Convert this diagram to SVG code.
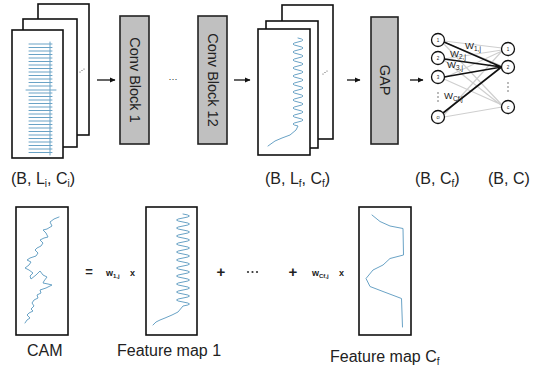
<svg xmlns="http://www.w3.org/2000/svg" width="535" height="368" viewBox="0 0 535 368">
<style>
text{font-family:"Liberation Sans",Arial,sans-serif;fill:#222}
.frame{fill:#fff;stroke:#111;stroke-width:1.6}
.block{fill:#c0c0c0;stroke:#222;stroke-width:1.6}
.wave{fill:none;stroke:#6aa3c6;stroke-width:1;stroke-linejoin:round;stroke-linecap:round}
.lbl{font-size:16px}
.blk{font-size:14.5px}
.gray{stroke:#cfcfcf;stroke-width:1.2}
.dark{stroke:#111;stroke-width:1.6}
.node{fill:#fff;stroke:#111;stroke-width:1.3}
.nt{font-size:4.5px;text-anchor:middle}
.w{font-size:9.5px}
.op{font-size:9px;font-weight:bold}
</style>
<defs>
<marker id="ah" markerWidth="6" markerHeight="6" refX="5" refY="3" orient="auto" markerUnits="userSpaceOnUse">
<path d="M0,0.5 L5.5,3 L0,5.5 Z" fill="#111"/>
</marker>
</defs>
<rect width="535" height="368" fill="#fff"/>

<g id="input-stack">
<rect class="frame" x="38" y="4" width="51" height="131"/>
<rect class="frame" x="23" y="19" width="54" height="128"/>
<rect class="frame" x="12" y="30" width="51" height="128"/>
<g fill="#555"><circle cx="80" cy="72" r="0.6"/><circle cx="82" cy="70.5" r="0.6"/><circle cx="84" cy="69" r="0.6"/></g>
<path class="wave" stroke-width="0.8" d="M50,42 V155 M29,44 H52 M29,47.5 H52 M29,51 H52 M29,54.5 H52 M29,58 H52 M29,61.5 H52 M29,65 H52 M29,68.5 H52 M29,72 H52 M29,75.5 H52 M29,79 H52 M29,82.5 H52 M29,86 H52 M26,90 H56 M29,93 H52 M29,96.5 H52 M29,100 H52 M29,103.5 H52 M29,107 H52 M29,110.5 H52 M29,114 H52 M29,117.5 H52 M29,121 H52 M29,124.5 H52 M29,128 H52 M29,131.5 H52 M29,135 H52 M29,138.5 H52 M29,142 H52 M29,145.5 H52 M29,149 H52 M29,152.5 H52"/>
<text class="lbl" x="11" y="184">(B, L<tspan font-size="10" dy="3">i</tspan><tspan dy="-3">, C</tspan><tspan font-size="10" dy="3">i</tspan><tspan dy="-3">)</tspan></text>
</g>

<g id="conv-block-1">
<rect class="block" x="120" y="16" width="29" height="128"/>
<text class="blk" transform="translate(129.5,80) rotate(90)" text-anchor="middle">Conv Block 1</text>
</g>

<text x="173" y="82" font-size="9" fill="#666" text-anchor="middle">···</text>

<g id="conv-block-12">
<rect class="block" x="198" y="16" width="29" height="128"/>
<text class="blk" transform="translate(207.5,80) rotate(90)" text-anchor="middle">Conv Block 12</text>
</g>

<g id="feature-stack">
<rect class="frame" x="282" y="5" width="51" height="134"/>
<rect class="frame" x="266" y="21" width="52" height="127"/>
<rect class="frame" x="258" y="29" width="52" height="126"/>
<g fill="#555"><circle cx="323" cy="74" r="0.6"/><circle cx="325" cy="72.5" r="0.6"/><circle cx="327" cy="71" r="0.6"/></g>
<path class="wave" d="M298,38 Q308,40 298,42 T298,46 T298,50 T298,54 T298,58 T298,62 T298,66 T298,70 T298,74 T298,78 T298,82 T298,86 T298,90 T298,94 T298,98 T298,102 T298,106 T298,110 T298,114 T298,118 T298,122 T298,126 L296,130 L290,135 L282,138 L275,141 L268,146"/>
<text class="lbl" x="265" y="184">(B, L<tspan font-size="10" dy="3">f</tspan><tspan dy="-3">, C</tspan><tspan font-size="10" dy="3">f</tspan><tspan dy="-3">)</tspan></text>
</g>

<g id="gap">
<rect class="block" x="371" y="17" width="27" height="127"/>
<text class="blk" transform="translate(380,80) rotate(90)" text-anchor="middle">GAP</text>
</g>

<g id="network">
<g class="gray">
<path d="M444,41 L502,48 M444,42 L502,66 M444,44 L502,105 M444,59 L502,50 M444,60 L502,106 M444,78 L502,51 M444,79 L502,105 M444,115 L502,51 M444,117 L502,107"/>
</g>
<g class="dark">
<path d="M444,42 L501.5,67 M444,59 L501.5,67 M444,77 L501.5,67 M443,113 L501.5,67"/>
</g>
<circle class="node" cx="438" cy="40" r="6.5"/>
<circle class="node" cx="438" cy="58" r="6.5"/>
<circle class="node" cx="438" cy="77" r="6.5"/>
<circle class="node" cx="438" cy="117" r="6.5"/>
<circle class="node" cx="508" cy="49" r="6.5"/>
<circle class="node" cx="508" cy="67" r="6.5"/>
<circle class="node" cx="508" cy="107" r="6.5"/>
<text class="nt" x="438" y="41.6">1</text>
<text class="nt" x="438" y="59.6">2</text>
<text class="nt" x="438" y="78.6">3</text>
<text class="nt" x="438" y="118.6">c<tspan font-size="3">f</tspan></text>
<text class="nt" x="508" y="50.6">1</text>
<text class="nt" x="508" y="68.6">2</text>
<text class="nt" x="508" y="108.6">c</text>
<g fill="#444"><circle cx="438" cy="93" r="0.7"/><circle cx="438" cy="97" r="0.7"/><circle cx="438" cy="101" r="0.7"/><circle cx="508" cy="83" r="0.7"/><circle cx="508" cy="87" r="0.7"/><circle cx="508" cy="91" r="0.7"/></g>
<text class="w" x="465" y="49">W<tspan font-size="6.5" dy="1.5">1,j</tspan></text>
<text class="w" x="450" y="57">W<tspan font-size="6.5" dy="1.5">2,j</tspan></text>
<text class="w" x="447" y="68">W<tspan font-size="6.5" dy="1.5">3,j</tspan></text>
<text class="w" x="444" y="99">W<tspan font-size="6.5" dy="1.5">Cf,j</tspan></text>
<text class="lbl" x="415" y="184">(B, C<tspan font-size="10" dy="3">f</tspan><tspan dy="-3">)</tspan></text>
<text class="lbl" x="488" y="184">(B, C)</text>
</g>

<g id="connectors" stroke="#111" stroke-width="1.3" marker-end="url(#ah)">
<line x1="97" y1="80" x2="115" y2="80"/>
<line x1="234" y1="80" x2="250" y2="80"/>
<line x1="347" y1="80" x2="360" y2="80"/>
<line x1="410" y1="80" x2="423" y2="80"/>
</g>

<g id="cam">
<rect class="frame" x="16" y="207" width="52" height="128"/>
<polyline class="wave" points="59,217 54,219 50,222 52,226 47,229 43,230 46,233 48,237 44,238 40,240 43,243 41,246 37,248 35,250 38,253 36,256 30,258 27,260 31,262 29,265 25,268 29,270 33,273 30,276 31,279 36,275 40,271 43,275 47,277 44,281 43,283 48,284 52,285 46,288 40,290 41,293 37,295 38,298 34,300 32,303 34,306 31,309 33,311 29,313 27,315 30,318 27,320 25,323"/>
<text class="lbl" x="27" y="356">CAM</text>
</g>

<text x="89" y="276" font-size="13" font-weight="bold" text-anchor="middle">=</text>
<text class="op" x="106" y="276">w<tspan font-size="6" dy="1.5">1,j</tspan></text>
<text class="op" x="130" y="276">x</text>

<g id="feature-map-1">
<rect class="frame" x="146" y="207" width="51" height="128"/>
<path class="wave" d="M183,214 Q196,216 183,218 T183,222 T183,226 T183,230 T183,234 T183,238 T183,242 T183,246 T183,250 T183,254 T183,258 T183,262 T183,266 T183,270 T183,274 T183,278 T183,282 T183,286 T183,290 T183,294 T183,298 T183,302 T183,306 L178,312 L172,315 L165,318 L160,320 L156,322 L153,325"/>
<text class="lbl" x="117" y="356">Feature map 1</text>
</g>

<text x="221" y="277" font-size="15" font-weight="bold" text-anchor="middle">+</text>
<g fill="#333"><circle cx="248" cy="272" r="1.1"/><circle cx="252.5" cy="272" r="1.1"/><circle cx="257" cy="272" r="1.1"/></g>
<text x="293" y="277" font-size="15" font-weight="bold" text-anchor="middle">+</text>
<text class="op" x="312" y="276">w<tspan font-size="6" dy="1.5">Cf,j</tspan></text>
<text class="op" x="339" y="276">x</text>

<g id="feature-map-cf">
<rect class="frame" x="359" y="207" width="52" height="128"/>
<polyline class="wave" points="372,215 380,221.5 390,226 403,228.5 403.5,255 390,258.5 383,265 373,270 366,278.5 370,286.5 383,291.5 401.5,298.5 402.5,327"/>
<text class="lbl" x="330" y="362">Feature map C<tspan font-size="10" dy="2.5">f</tspan></text>
</g>
</svg>
